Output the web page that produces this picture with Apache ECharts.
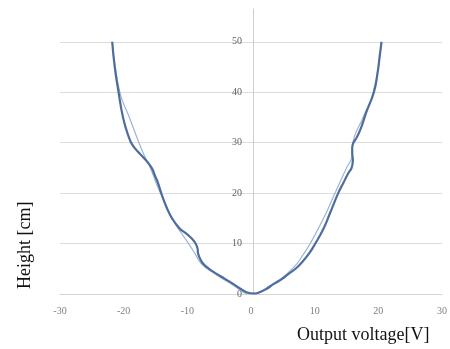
<!DOCTYPE html>
<html><head><meta charset="utf-8">
<script src="https://cdn.jsdelivr.net/npm/echarts@6/dist/echarts.min.js"></script>
<style>html,body{margin:0;padding:0;background:#fff}#c{width:450px;height:349px}</style>
</head><body><div id="c"></div>
<script>
// Measured (thick) curve
var thickX = [-21.8,-21.4,-20.8,-20.1,-19.3,-18.6,-17.6,-16.5,-15.6,-15.1,-14.6,-14.1,-13.2,-12.4,-11.2,-10.2,-9.3,-8.7,-8.4,-8.3,-8.0,-7.5,-6.6,-5.4,-4.1,-2.8,-1.6,-0.6,0.5,1.6,2.4,3.6,4.9,5.9,7.0,7.8,9.1,10.1,11.4,12.4,13.7,14.5,15.3,15.8,16.0,15.9,15.9,16.1,16.6,17.3,18.1,19.3,19.9,20.2,20.5];
var thickY = [50,45,40,35,31.5,29.5,28,26.5,25,23.5,22,20,17,15,13,12,11,10,9,8,7,6,5,4,3,2,1,0.3,0.1,0.5,1,2,3,4,5,6,8,10,13,16,20,22,24,25,26.5,28,29,30,31,33,36,40,44,47,50];
// Reference (thin) curve
var thinX = [-21.8,-20.6,-19.1,-17.6,-16.6,-15.8,-14.9,-14.2,-12.4,-10.9,-9.8,-8.8,-7.8,-5.7,-3.1,0,3.4,6.5,8.3,9.3,11.4,13.2,15.0,15.8,16.0,17.6,19.2,20.5];
var thinY = [50,40,35,30,27,25,22,20,15,12,10,8,6,4,2,0,2,5,8,10,15,20,25,27,30,35,40,50];
var xTicks = [-30,-20,-10,0,10,20,30];
var yTicks = [0,10,20,30,40,50];

function pairs(xs, ys){ return xs.map(function(x,i){ return [x, ys[i]]; }); }

var chart = echarts.init(document.getElementById('c'), null, {renderer:'canvas'});
chart.setOption({
  animation:false,
  backgroundColor:'#fff',
  grid:{left:60, right:4, top:9, bottom:55},
  xAxis:{
    type:'value', min:-30, max:30, interval:10,
    axisLine:{show:true, onZero:true, lineStyle:{color:'#d4d4d4', width:1}},
    axisTick:{show:false},
    splitLine:{show:false},
    axisLabel:{color:'#7f7f7f', fontSize:10, fontFamily:'Liberation Serif', margin:12,
      formatter:function(v){ return xTicks.indexOf(v)>=0 ? String(v) : ''; }}
  },
  yAxis:{
    type:'value', min:0, max:56.5, interval:10, offset:-193,
    axisLine:{show:true, onZero:false, lineStyle:{color:'#cfcfcf', width:1}},
    axisTick:{show:false},
    splitLine:{show:true, lineStyle:{color:['#dcdcdc','#dcdcdc','#dcdcdc','#dcdcdc','#dcdcdc','#dcdcdc','rgba(0,0,0,0)'], width:1}},
    axisLabel:{color:'#5f5f5f', fontSize:10, fontFamily:'Liberation Serif', margin:11,
      formatter:function(v){ return yTicks.indexOf(v)>=0 ? String(v) : ''; }}
  },
  series:[
    {type:'line', data:pairs(thinX, thinY), smooth:0.5, symbol:'none',
     lineStyle:{color:'#9db3d6', width:1.2}},
    {type:'line', data:pairs(thickX, thickY), smooth:0.5, symbol:'none',
     lineStyle:{color:'#4f6d9c', width:2.2}}
  ],
  graphic:[
    {type:'text', left:297, top:326, style:{text:'Output voltage[V]', font:'18px "Liberation Serif"', fill:'#111'}},
    {type:'text', x:16, y:289, rotation:Math.PI/2, style:{text:'Height [cm]', font:'18px "Liberation Serif"', fill:'#111'}}
  ]
});
</script></body></html>
